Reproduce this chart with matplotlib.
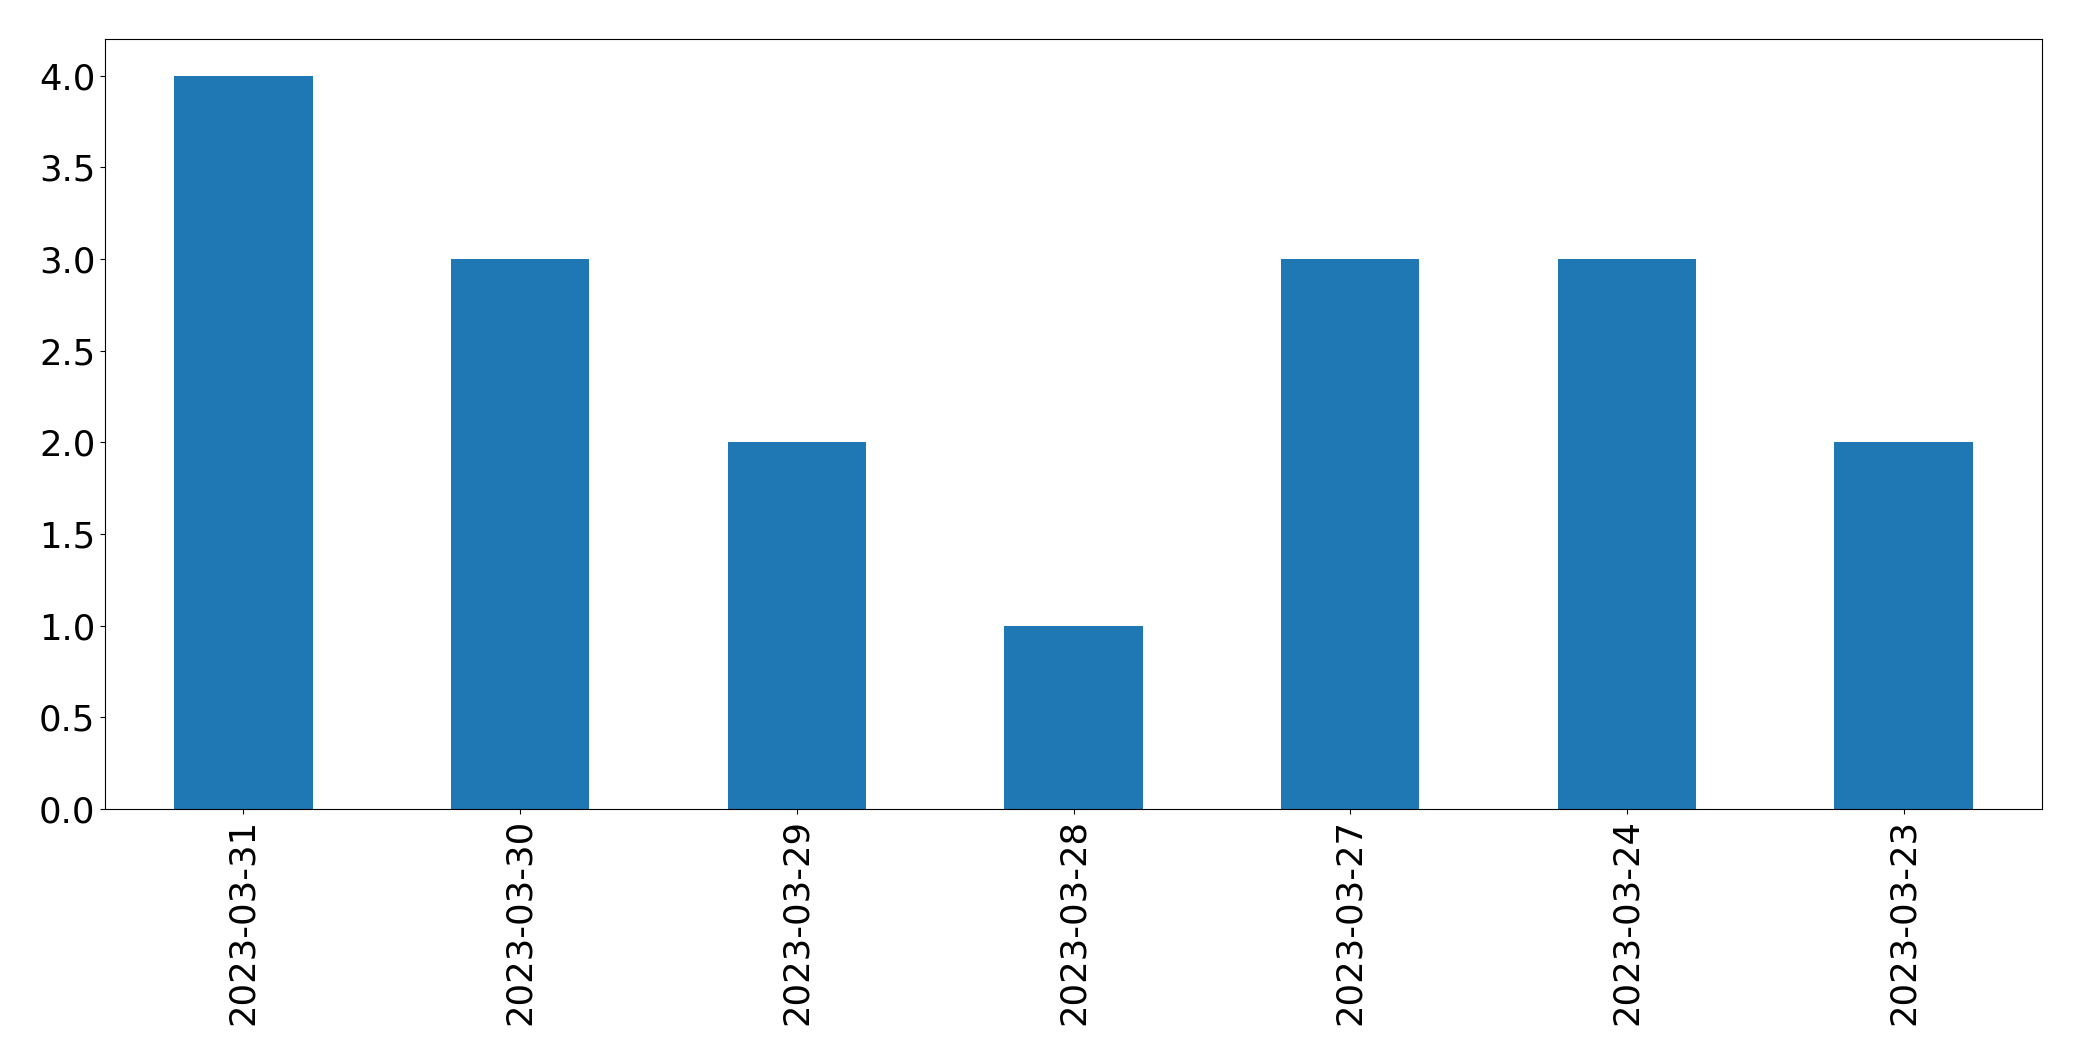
import matplotlib
matplotlib.use("Agg")
import matplotlib.pyplot as plt
import pandas as pd

dates = ["2023-03-31", "2023-03-30", "2023-03-29", "2023-03-28",
         "2023-03-27", "2023-03-24", "2023-03-23"]
counts = [4, 3, 2, 1, 3, 3, 2]

s = pd.Series(counts, index=dates)

fig, ax = plt.subplots(figsize=(20.82, 10.61), dpi=100)
s.plot(kind="bar", ax=ax, color="#1f77b4", fontsize=25.5)
plt.subplots_adjust(left=105/2082, right=2042/2082, top=1-39/1061, bottom=1-809/1061)
plt.savefig("out.png", dpi=100)
